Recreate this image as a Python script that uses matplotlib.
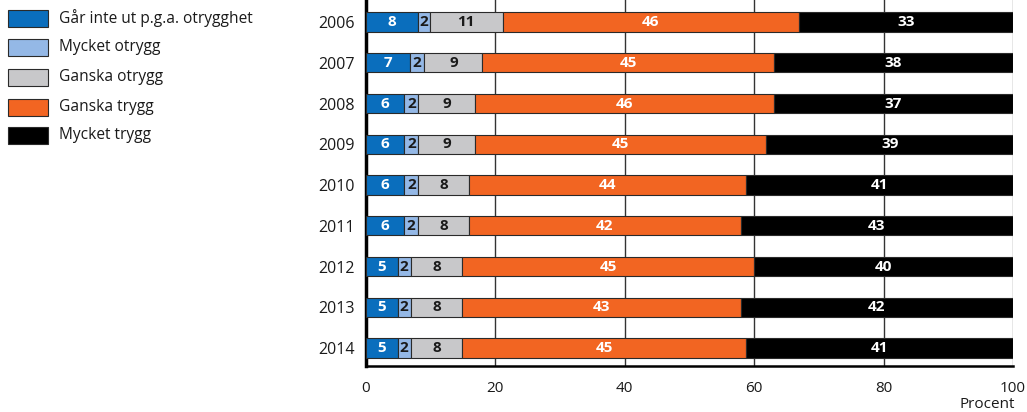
import matplotlib
matplotlib.use("Agg")
import matplotlib.pyplot as plt
from matplotlib.patches import Rectangle
import numpy as np

plt.rcParams['font.family'] = ['Open Sans', 'DejaVu Sans']

years = ["2006", "2007", "2008", "2009", "2010", "2011", "2012", "2013", "2014"]
categories = ["Går inte ut p.g.a. otrygghet", "Mycket otrygg", "Ganska otrygg",
              "Ganska trygg", "Mycket trygg"]
colors = ["#0a6ebd", "#94b8e6", "#c8c8ca", "#f26522", "#000000"]
text_colors = ["white", "#1a1a1a", "#1a1a1a", "white", "white"]

# segment widths as drawn (percent)
gar_inte = [8.1, 6.8, 5.9, 5.9, 5.9, 5.9, 4.9, 4.9, 4.9]
mycket_otrygg = [1.8, 2.2, 2.2, 2.2, 2.2, 2.1, 2.0, 2.0, 2.0]
ganska_otrygg = [11.2, 9.0, 8.8, 8.8, 7.8, 7.9, 8.0, 8.0, 8.0]
ganska_trygg = [45.8, 45.0, 46.1, 45.0, 42.8, 42.0, 45.1, 43.0, 43.9]
mycket_trygg = [33.1, 37.0, 37.0, 38.1, 41.3, 42.1, 40.0, 42.1, 41.2]

# printed labels
lab_gar_inte = [8, 7, 6, 6, 6, 6, 5, 5, 5]
lab_mycket_otrygg = [2, 2, 2, 2, 2, 2, 2, 2, 2]
lab_ganska_otrygg = [11, 9, 9, 9, 8, 8, 8, 8, 8]
lab_ganska_trygg = [46, 45, 46, 45, 44, 42, 45, 43, 45]
lab_mycket_trygg = [33, 38, 37, 39, 41, 43, 40, 42, 41]

series = [gar_inte, mycket_otrygg, ganska_otrygg, ganska_trygg, mycket_trygg]
labels = [lab_gar_inte, lab_mycket_otrygg, lab_ganska_otrygg, lab_ganska_trygg, lab_mycket_trygg]

W, H = 1027, 412
fig = plt.figure(figsize=(W / 100, H / 100), dpi=100)
ax = fig.add_axes([366 / W, (H - 366) / H, 647 / W, 366 / H])

y = np.arange(len(years))
left = np.zeros(len(years))
for vals, labs, c, tc in zip(series, labels, colors, text_colors):
    vals = np.array(vals)
    ax.barh(y, vals, left=left, height=0.47, color=c, edgecolor="#2a2a2a",
            linewidth=0.8, zorder=3)
    for yi, (l, v, lab) in enumerate(zip(left, vals, labs)):
        ax.text(l + v / 2, yi, str(lab), ha="center", va="center",
                color=tc, fontsize=11, fontweight="bold", zorder=4)
    left = left + vals

ax.set_xlim(0, 100)
ax.set_ylim(8.44, -0.54)
ax.set_yticks(y)
ax.set_yticklabels(years, fontsize=11.5, color="#1a1a1a")
ax.set_xticks([0, 20, 40, 60, 80, 100])
ax.set_xticklabels(["0", "20", "40", "60", "80", "100"], fontsize=11, color="#1a1a1a")
ax.tick_params(axis="both", length=0)
ax.tick_params(axis="y", pad=8)
ax.tick_params(axis="x", pad=11)
for xv in [20, 40, 60, 80]:
    ax.axvline(xv, color="#333333", linewidth=1.0, zorder=1)
ax.axvline(100, color="#888888", linewidth=1.0, zorder=1)
ax.spines["top"].set_visible(False)
ax.spines["right"].set_visible(False)
ax.spines["left"].set_linewidth(2.5)
ax.spines["bottom"].set_linewidth(1.8)
ax.spines["left"].set_color("black")
ax.spines["bottom"].set_color("black")

fig.text(1015 / W, 1 - 404 / H, "Procent", ha="right", va="center",
         fontsize=11, color="#1a1a1a")

# legend
leg_y = [18, 47, 77, 107, 135]
for cat, c, ly in zip(categories, colors, leg_y):
    fig.patches.append(Rectangle((8 / W, 1 - (ly + 8.5) / H), 40 / W, 17 / H,
                                 transform=fig.transFigure, facecolor=c,
                                 edgecolor="#2a2a2a", linewidth=0.8))
    fig.text(59 / W, 1 - ly / H, cat, ha="left", va="center",
             fontsize=11.2, color="#1a1a1a")

fig.savefig("out.png", dpi=100)
